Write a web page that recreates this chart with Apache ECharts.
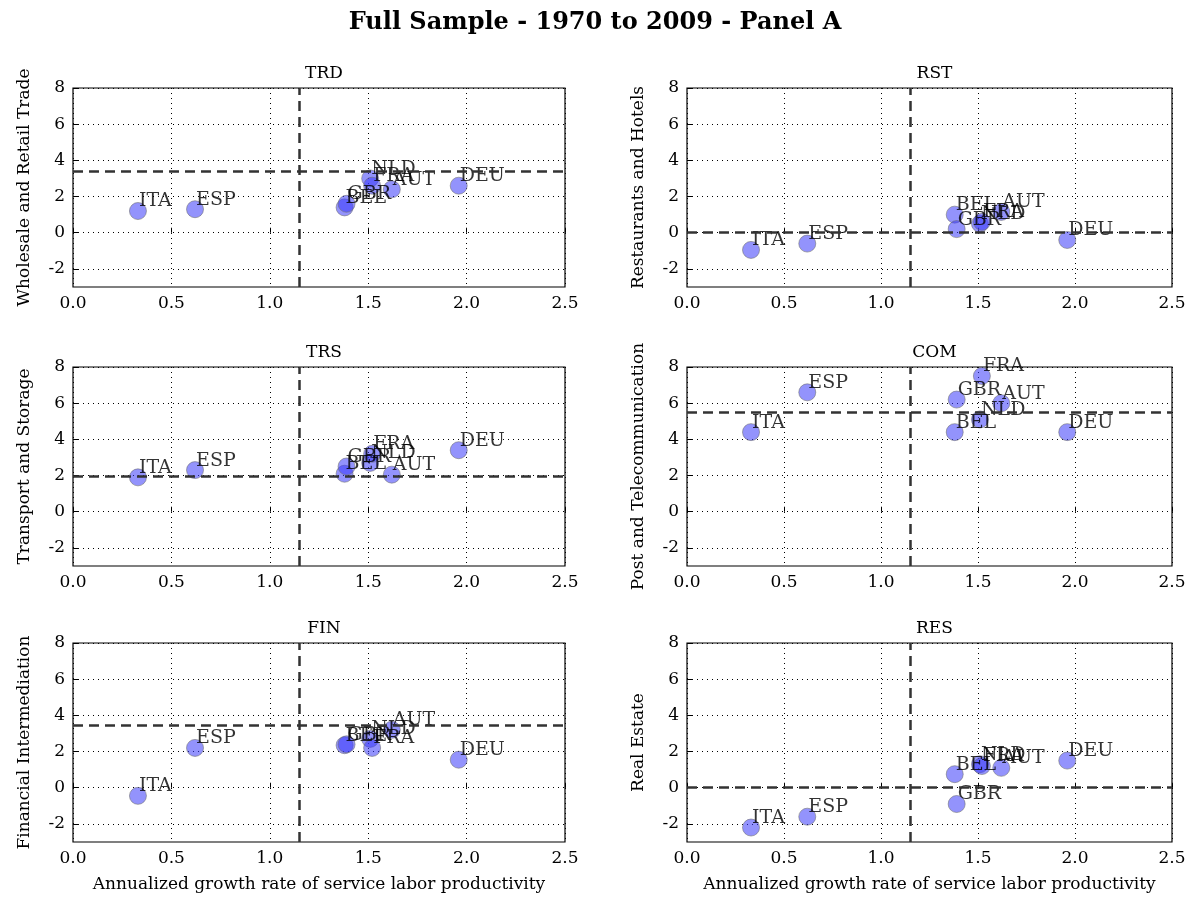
<!DOCTYPE html>
<html><head><meta charset="utf-8">
<script src="https://cdn.jsdelivr.net/npm/echarts@6/dist/echarts.min.js"></script>
<style>html,body{margin:0;background:#fff}#c{width:1190px;height:901px}</style>
</head><body><div id="c"></div>
<script>
var countries = ['ITA','ESP','BEL','GBR','NLD','FRA','AUT','DEU'];
var xVals = [0.33, 0.62, 1.38, 1.39, 1.51, 1.52, 1.62, 1.96];
var panels = ['TRD','RST','TRS','COM','FIN','RES'];
var yNames = ['Wholesale and Retail Trade','Restaurants and Hotels','Transport and Storage','Post and Telecommunication','Financial Intermediation','Real Estate'];
var yTRD = [1.2, 1.3, 1.4, 1.6, 3.0, 2.6, 2.4, 2.6];
var yRST = [-0.95, -0.6, 1.0, 0.2, 0.5, 0.6, 1.15, -0.4];
var yTRS = [1.9, 2.3, 2.1, 2.5, 2.7, 3.2, 2.05, 3.4];
var yCOM = [4.4, 6.6, 4.4, 6.2, 5.1, 7.5, 6.0, 4.4];
var yFIN = [-0.45, 2.2, 2.35, 2.4, 2.7, 2.2, 3.2, 1.55];
var yRES = [-2.2, -1.6, 0.75, -0.9, 1.3, 1.2, 1.1, 1.5];
var yAll = [yTRD, yRST, yTRS, yCOM, yFIN, yRES];
var hLines = [3.4, 0.0, 1.95, 5.5, 3.45, 0.05];
var vLine = 1.15;
var yTicks = [-2, 0, 2, 4, 6, 8];

var font = 'DejaVu Serif';
var lefts = [73, 687], widths = [492, 485];
var tops = [88, 367, 643], height = 199;
var grids = [], xAxes = [], yAxes = [], series = [], titles = [];
panels.forEach(function (p, i) {
  var col = i % 2, row = Math.floor(i / 2);
  grids.push({left: lefts[col], width: widths[col], top: tops[row], height: height,
    show: true, borderColor: '#000', borderWidth: 1.2, backgroundColor: 'transparent'});
  titles.push({text: p, left: lefts[col] + widths[col] / 2, top: tops[row] - 28, textAlign: 'center',
    textStyle: {fontFamily: font, fontWeight: 'normal', fontSize: 17, color: '#000'}});
  xAxes.push({gridIndex: i, type: 'value', min: 0, max: 2.5, interval: 0.5,
    name: row === 2 ? 'Annualized growth rate of service labor productivity' : '',
    nameLocation: 'middle', nameGap: 34,
    nameTextStyle: {fontFamily: font, fontSize: 17, color: '#000'},
    axisLine: {show: false}, axisTick: {inside: true, length: 5, lineStyle: {color: '#000'}},
    axisLabel: {fontFamily: font, fontSize: 17, color: '#000', formatter: function (v) { return v.toFixed(1); }},
    splitLine: {lineStyle: {type: [1, 4], color: '#000'}}});
  yAxes.push({gridIndex: i, type: 'value', min: -3, max: 8,
    name: yNames[i], nameLocation: 'middle', nameGap: 40,
    nameTextStyle: {fontFamily: font, fontSize: 17, color: '#000'},
    axisLine: {show: false},
    axisTick: {inside: true, length: 5, lineStyle: {color: '#000'}, customValues: yTicks},
    axisLabel: {fontFamily: font, fontSize: 17, color: '#000', customValues: yTicks},
    splitLine: {lineStyle: {type: [1, 4], color: '#000'}}});
  series.push({type: 'scatter', xAxisIndex: i, yAxisIndex: i, symbolSize: 17,
    itemStyle: {color: 'rgba(55,55,250,0.68)', borderColor: 'rgba(110,110,110,0.7)', borderWidth: 1},
    label: {show: true, position: [10, -10], formatter: function (d) { return d.name; },
      fontFamily: font, fontSize: 19, color: '#000'},
    data: countries.map(function (c, k) { return {name: c, value: [xVals[k], yAll[i][k]]}; }),
    markLine: {silent: true, symbol: 'none', label: {show: false}, animation: false,
      lineStyle: {type: [10, 6], color: '#333', width: 2.5},
      data: [{yAxis: hLines[i]}, {xAxis: vLine}]}});
});
titles.push({text: 'Full Sample - 1970 to 2009 - Panel A', left: 'center', top: 6,
  textStyle: {fontFamily: font, fontWeight: 'bold', fontSize: 24, color: '#000'}});

var chart = echarts.init(document.getElementById('c'));
chart.setOption({animation: false, title: titles, grid: grids, xAxis: xAxes, yAxis: yAxes, series: series});
</script></body></html>
